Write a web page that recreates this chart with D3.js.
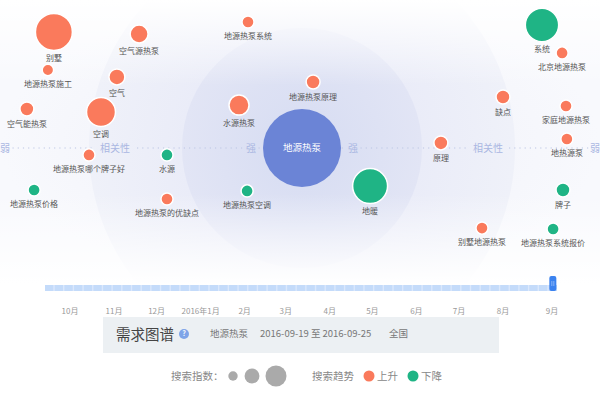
<!DOCTYPE html>
<html>
<head>
<meta charset="utf-8">
<script src="https://cdnjs.cloudflare.com/ajax/libs/d3/7.8.5/d3.min.js"></script>
<style>
  body { margin: 0; background: #fff; }
  svg { display: block; font-family: "Noto Sans CJK SC", "Noto Sans", sans-serif; }
</style>
</head>
<body>
<div id="GraphDiv"></div>
<script>

var keyword   = ['地源热泵','别墅','空气源热泵','地源热泵施工','空气','空气能热泵','空调','地源热泵系统','地源热泵原理','水源热泵','系统','北京地源热泵','缺点','家庭地源热泵','地热源泵','地源热泵哪个牌子好','水源','地源热泵价格','地源热泵的优缺点','地源热泵空调','地暖','原理','牌子','别墅地源热泵','地源热泵系统报价'];
var relX      = [0,-82.7,-54.3,-84.7,-61.7,-91.7,-67,-18,3.7,-21,80,86.7,67,88,88.3,-71,-45,-89.3,-45,-18.3,22.7,46.3,87,60,83.7];
var relY      = [0,38.7,38,26,23.7,13,12,42,22,14.3,41,31.7,17,14,3,-2.3,-2.3,-14,-17,-14.3,-12.7,1.7,-14,-26.7,-27];
var searchIdx = [10000,2250,530,215,420,320,1380,240,320,660,1830,240,320,240,240,240,240,240,240,240,2010,320,320,240,240];
var trend     = ['core','up','up','up','up','up','up','up','up','up','down','up','up','up','up','up','down','down','up','down','down','up','down','up','down'];

var axisLabels = ['弱','相关性','强','强','相关性','弱'];
var axisPos    = [-100.7,-62.3,-17,17,62,99.3];
var axisAnchor = ['start','middle','middle','middle','middle','end'];

var monthLabels = ['10月','11月','12月','2016年1月','2月','3月','4月','5月','6月','7月','8月','9月'];
var monthDates  = [new Date(2015,9,1),new Date(2015,10,1),new Date(2015,11,1),new Date(2016,0,1),new Date(2016,1,1),new Date(2016,2,1),new Date(2016,3,1),new Date(2016,4,1),new Date(2016,5,1),new Date(2016,6,1),new Date(2016,7,1),new Date(2016,8,1)];
var weeks = d3.timeMonday.range(new Date(2015,8,21), new Date(2016,8,20));

var legendSizes = [600,1500,3000];
var legendTrend = [['up','上升'],['down','下降']];

var wd = 600, ht = 400;
var cx = 302, cy = 148;

var colors = {core:'#6b84d6', up:'#fa7a5c', down:'#1fb485'};

var x = d3.scaleLinear().domain([-100,100]).range([cx-300, cx+300]);
var y = d3.scaleLinear().domain([-50,50]).range([cy+150, cy-150]);
var r = d3.scaleSqrt().domain([0,10000]).range([0,39]);

var svg = d3.select('#GraphDiv')
	.append("svg")
	.attr("width",wd)
	.attr("height",ht);

var defs = svg.append('defs');

var g1 = defs.append('radialGradient').attr('id','ringIn');
g1.append('stop').attr('offset','0%').attr('stop-color','#d6dcf2');
g1.append('stop').attr('offset','100%').attr('stop-color','#e2e5f5');

var g2 = defs.append('radialGradient').attr('id','ringMid');
g2.append('stop').attr('offset','55%').attr('stop-color','#eaecf8');
g2.append('stop').attr('offset','100%').attr('stop-color','#eff1f9');

var g3 = defs.append('radialGradient').attr('id','ringOut');
g3.append('stop').attr('offset','40%').attr('stop-color','#f2f3fa');
g3.append('stop').attr('offset','100%').attr('stop-color','#f8f9fd');

var fade = defs.append('linearGradient').attr('id','fade')
	.attr('x1',0).attr('y1',0).attr('x2',0).attr('y2',1);
fade.append('stop').attr('offset','0%').attr('stop-color','#fff').attr('stop-opacity',1);
fade.append('stop').attr('offset','30%').attr('stop-color','#fff').attr('stop-opacity',0);
fade.append('stop').attr('offset','68%').attr('stop-color','#fff').attr('stop-opacity',0);
fade.append('stop').attr('offset','100%').attr('stop-color','#fff').attr('stop-opacity',1);

defs.append('clipPath').attr('id','plotClip')
	.append('rect').attr('x',0).attr('y',0).attr('width',wd).attr('height',285);

var bg = svg.append('g').attr('clip-path','url(#plotClip)');
bg.append('rect').attr('x',0).attr('y',0).attr('width',wd).attr('height',285).attr('fill','url(#ringOut)');
bg.append('circle').attr('cx',cx).attr('cy',cy).attr('r',213).attr('fill','url(#ringMid)');
bg.append('circle').attr('cx',cx).attr('cy',cy).attr('r',120).attr('fill','url(#ringIn)');
bg.append('rect').attr('x',0).attr('y',0).attr('width',wd).attr('height',285).attr('fill','url(#fade)');

// dotted relevance axis
var gaps = [[-104,-96.5],[-69,-55],[-19.5,-14.5],[14.5,19.5],[55,69],[96,104]];
var segs = [];
for (var i = 0; i < gaps.length-1; i++) { segs.push([gaps[i][1], gaps[i+1][0]]); }
svg.selectAll('.axisSeg')
	.data(segs)
	.enter()
	.append('line')
	.attr('class','axisSeg')
	.attr('x1',function(d){return x(d[0]);})
	.attr('x2',function(d){return x(d[1]);})
	.attr('y1',y(0)).attr('y2',y(0))
	.attr('stroke','#bcc5e4')
	.attr('stroke-width',1.2)
	.attr('stroke-dasharray','1.2,4');

svg.selectAll('.axisLbl')
	.data(axisLabels)
	.enter()
	.append('text')
	.attr('class','axisLbl')
	.attr('x',function(d,i){return x(axisPos[i]);})
	.attr('y',y(0))
	.attr('dy','0.35em')
	.attr('text-anchor',function(d,i){return axisAnchor[i];})
	.attr('font-size',10)
	.attr('fill','#aab7e2')
	.text(function(d){return d;});

var nodes = keyword.map(function(k,i){
	return {name:k, x:relX[i], y:relY[i], v:searchIdx[i], t:trend[i]};
});

var node = svg.selectAll('.node')
	.data(nodes)
	.enter()
	.append('g')
	.attr('class','node')
	.attr('transform',function(d){return 'translate('+x(d.x)+','+y(d.y)+')';});

node.append('circle')
	.attr('r',function(d){return r(d.v);})
	.attr('fill',function(d){return colors[d.t];})
	.attr('stroke','#fff')
	.attr('stroke-width',function(d){return d.t==='core'?0:1.5;});

node.append('text')
	.attr('text-anchor','middle')
	.attr('y',function(d){return d.t==='core'?0:r(d.v)+8;})
	.attr('dy','0.35em')
	.attr('font-size',function(d){return d.t==='core'?9.5:8;})
	.attr('fill',function(d){return d.t==='core'?'#fff':'#555';})
	.text(function(d){return d.name;});

// time slider
var band = d3.scaleBand().domain(weeks).range([45,557]).paddingInner(0.14);
svg.append('rect')
	.attr('x',45).attr('y',285).attr('width',512).attr('height',6)
	.attr('fill','#dbe8fc');
svg.selectAll('.week')
	.data(weeks)
	.enter()
	.append('rect')
	.attr('class','week')
	.attr('x',function(d){return band(d);})
	.attr('y',285)
	.attr('width',band.bandwidth())
	.attr('height',6)
	.attr('fill','#c4dbfa');

var last = weeks[weeks.length-1];
var hx = band(last) + band.bandwidth()/2;
svg.append('rect')
	.attr('x',hx-3.5).attr('y',276).attr('width',7).attr('height',15).attr('rx',2)
	.attr('fill','#3b82ef');
svg.selectAll('.grip')
	.data([-1,1])
	.enter()
	.append('line')
	.attr('x1',function(d){return hx+d;}).attr('x2',function(d){return hx+d;})
	.attr('y1',281).attr('y2',286)
	.attr('stroke','#9cc1f7').attr('stroke-width',0.8);

var t = d3.scaleTime().domain([monthDates[0], monthDates[10]]).range([70,503]);
svg.selectAll('.month')
	.data(monthLabels)
	.enter()
	.append('text')
	.attr('class','month')
	.attr('x',function(d,i){return i===11 ? t(monthDates[i])+5 : t(monthDates[i]);})
	.attr('y',311)
	.attr('dy','0.35em')
	.attr('text-anchor','middle')
	.attr('font-size',8)
	.attr('fill','#999')
	.text(function(d){return d;});

// info panel
svg.append('rect')
	.attr('x',103).attr('y',317).attr('width',396).attr('height',36)
	.attr('fill','#ecf0f3');
svg.append('text')
	.attr('x',116).attr('y',335).attr('dy','0.35em')
	.attr('font-size',14.5).attr('fill','#444')
	.text('需求图谱');
svg.append('circle').attr('cx',184).attr('cy',334).attr('r',5).attr('fill','#7ea4e8');
svg.append('text')
	.attr('x',184).attr('y',334).attr('dy','0.35em').attr('text-anchor','middle')
	.attr('font-size',7).attr('font-weight','bold').attr('fill','#fff')
	.text('?');
svg.append('text')
	.attr('x',210).attr('y',334).attr('dy','0.35em')
	.attr('font-size',9.5).attr('fill','#777')
	.text('地源热泵');
svg.append('text')
	.attr('x',260).attr('y',334).attr('dy','0.35em')
	.attr('font-size',9.5).attr('fill','#777')
	.text('2016-09-19 至 2016-09-25');
svg.append('text')
	.attr('x',389).attr('y',334).attr('dy','0.35em')
	.attr('font-size',9.5).attr('fill','#777')
	.text('全国');

// legend
svg.append('text')
	.attr('x',171).attr('y',376).attr('dy','0.35em')
	.attr('font-size',10.5).attr('fill','#888')
	.text('搜索指数：');
var lr = d3.scaleSqrt().domain([0,3000]).range([0,10.5]);
var lx = [233,252,276];
svg.selectAll('.lsize')
	.data(legendSizes)
	.enter()
	.append('circle')
	.attr('cx',function(d,i){return lx[i];})
	.attr('cy',376)
	.attr('r',function(d){return lr(d);})
	.attr('fill','#aaa');

svg.append('text')
	.attr('x',312).attr('y',376).attr('dy','0.35em')
	.attr('font-size',10.5).attr('fill','#888')
	.text('搜索趋势');
var lt = svg.selectAll('.ltrend')
	.data(legendTrend)
	.enter()
	.append('g')
	.attr('transform',function(d,i){return 'translate('+(369+i*44)+',376)';});
lt.append('circle').attr('r',5.5).attr('fill',function(d){return colors[d[0]];});
lt.append('text')
	.attr('x',8).attr('dy','0.35em')
	.attr('font-size',10.5).attr('fill','#888')
	.text(function(d){return d[1];});

</script>
</body>
</html>
